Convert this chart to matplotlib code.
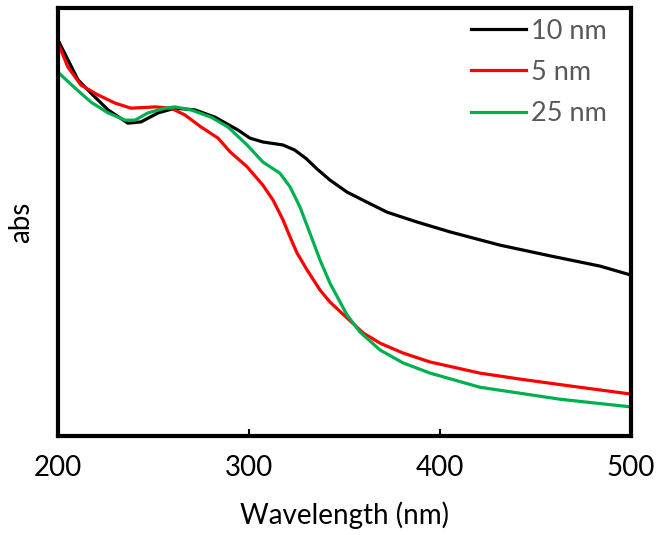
import numpy as np
import matplotlib
matplotlib.use("Agg")
import matplotlib.pyplot as plt

# absorbance spectra (arbitrary units)
wl_10 = [200, 205.2, 210.5, 217.3, 226.2, 236.6, 243.5, 252.4, 261.3, 271.7,
         282.2, 294.2, 300.5, 307.3, 317.8, 324.0, 330.0, 335.6, 342.4, 351.3,
         359.7, 372.3, 388.0, 405.2, 431.4, 457.6, 483.8, 500]
abs_10 = [0.925, 0.879, 0.832, 0.801, 0.762, 0.731, 0.734, 0.755, 0.766, 0.762,
          0.745, 0.715, 0.696, 0.687, 0.680, 0.668, 0.648, 0.624, 0.598, 0.570,
          0.551, 0.523, 0.500, 0.477, 0.446, 0.421, 0.397, 0.376]

wl_5 = [200, 205.2, 212.0, 220.9, 229.8, 238.2, 250.8, 259.2, 266.5, 274.9,
        283.8, 290.1, 299.0, 307.3, 312.6, 317.8, 321.5, 325.1, 330.4, 337.2,
        342.4, 351.3, 359.7, 368.6, 380.6, 394.8, 420.9, 441.9, 468.1, 500]
abs_5 = [0.918, 0.862, 0.820, 0.797, 0.778, 0.766, 0.769, 0.766, 0.750, 0.722,
         0.696, 0.664, 0.629, 0.586, 0.551, 0.505, 0.465, 0.428, 0.388, 0.341,
         0.313, 0.276, 0.241, 0.217, 0.194, 0.173, 0.147, 0.133, 0.117, 0.098]

wl_25 = [200, 208.9, 217.3, 226.2, 235.1, 240.3, 247.1, 256.0, 261.3, 269.6,
         280.1, 289.0, 299.0, 307.3, 316.2, 321.5, 326.7, 331.9, 337.2, 342.4,
         351.3, 358.1, 368.6, 380.6, 394.8, 420.9, 462.8, 500]
abs_25 = [0.850, 0.813, 0.780, 0.755, 0.738, 0.738, 0.755, 0.766, 0.769, 0.762,
          0.745, 0.722, 0.680, 0.640, 0.614, 0.582, 0.535, 0.474, 0.411, 0.357,
          0.283, 0.243, 0.201, 0.171, 0.147, 0.114, 0.086, 0.068]

xticks = [200, 300, 400, 500]

plt.rcParams['font.family'] = ['Lato', 'DejaVu Sans']

fig = plt.figure(figsize=(6.57, 5.35), dpi=100)
ax = fig.add_axes([0.0883, 0.185, 0.8721, 0.80])

ax.plot(wl_10, abs_10, color='black', lw=2.3, label='10 nm')
ax.plot(wl_5, abs_5, color='#ff0000', lw=2.3, label='5 nm')
ax.plot(wl_25, abs_25, color='#00b050', lw=2.3, label='25 nm')

ax.set_xlim(200, 500)
ax.set_ylim(0, 1.0)
ax.set_xticks(xticks)
ax.set_yticks([])
ax.tick_params(axis='x', direction='in', length=5, width=1.5, pad=14,
               labelsize=20)

for sp in ax.spines.values():
    sp.set_linewidth(3)

ax.set_xlabel('Wavelength (nm)', fontsize=20, labelpad=14)
ax.set_ylabel('abs', fontsize=20, labelpad=17)

leg = ax.legend(loc='upper right', bbox_to_anchor=(0.958, 0.975),
                frameon=False, fontsize=19.5, handlelength=2.0,
                handletextpad=0.2, labelspacing=0.6,
                borderaxespad=0, borderpad=0)
for t in leg.get_texts():
    t.set_color('#595959')

fig.savefig('out.png', dpi=100)
